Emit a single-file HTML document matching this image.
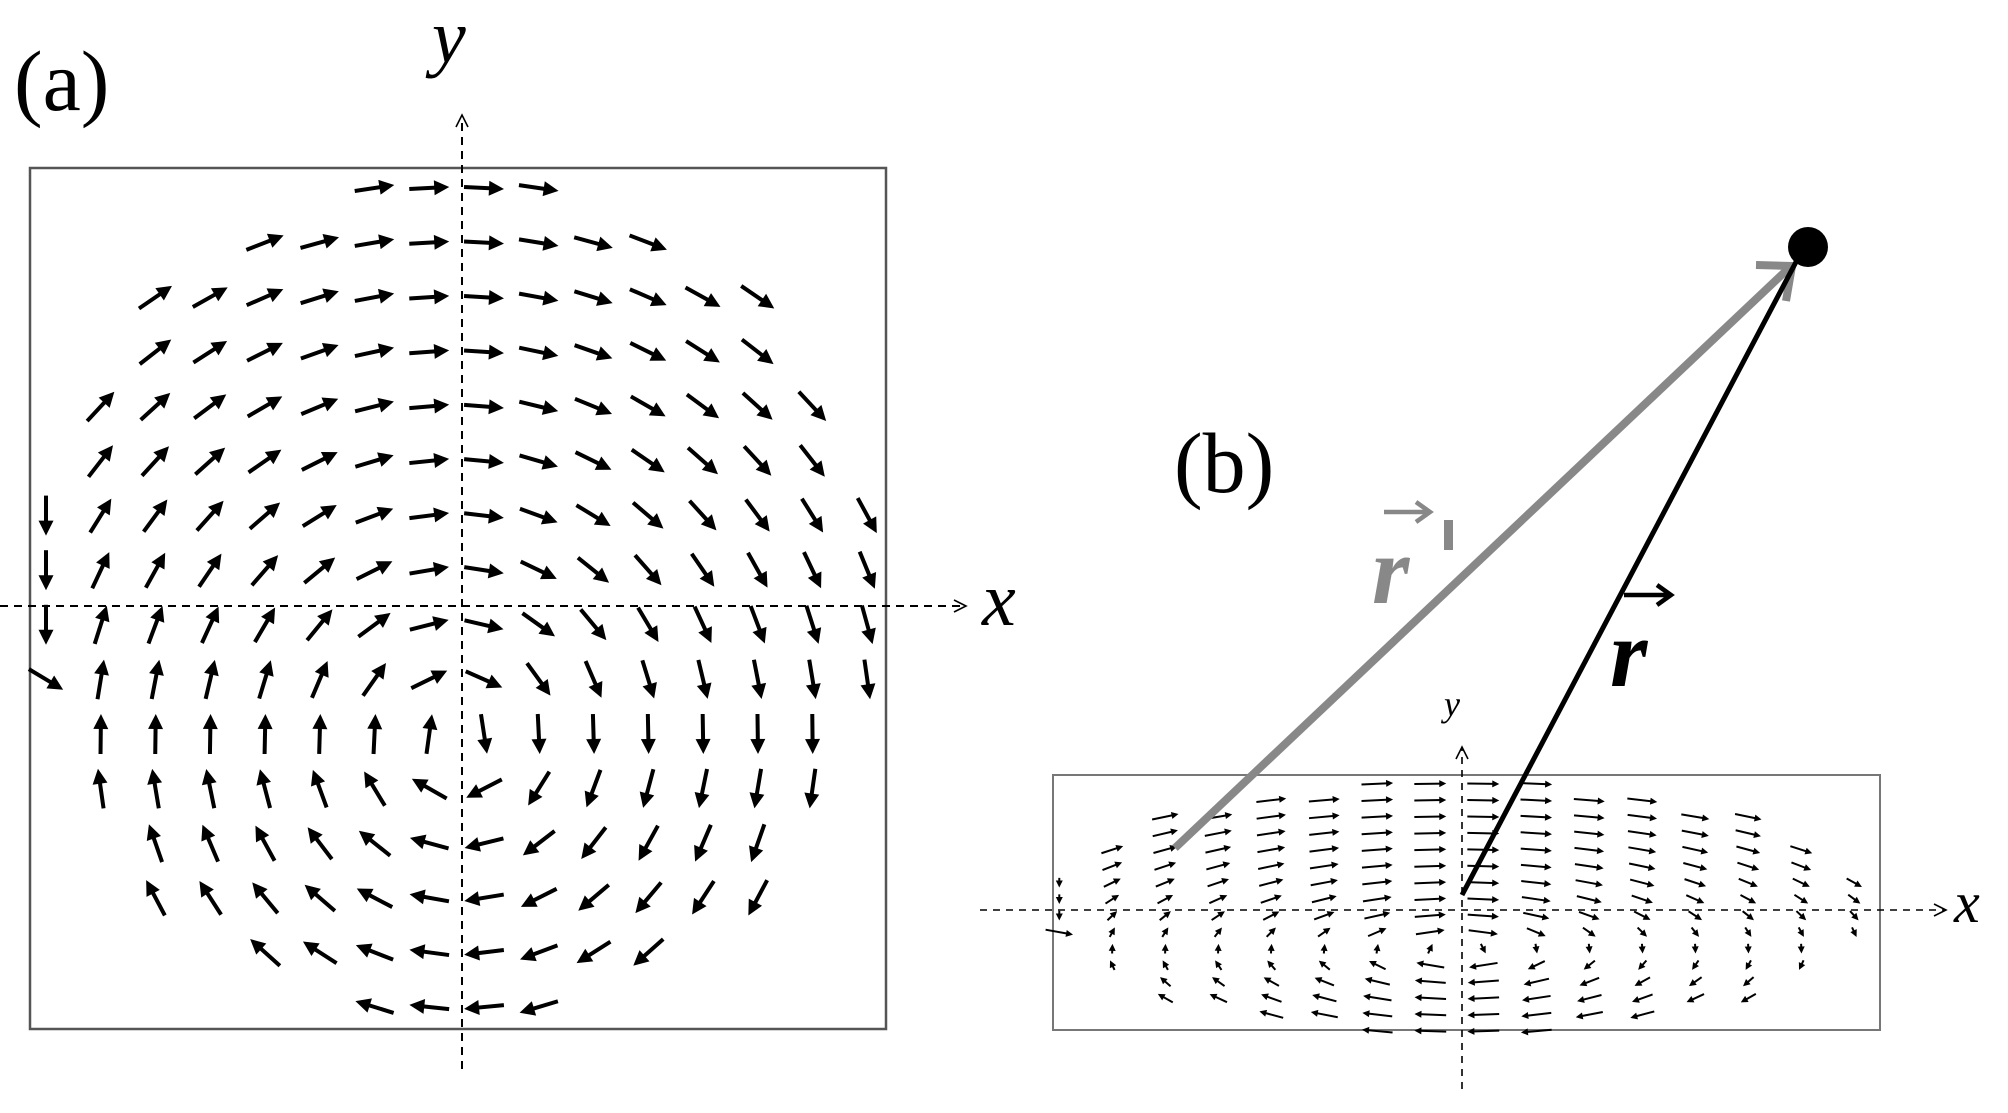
<!DOCTYPE html>
<html><head><meta charset="utf-8"><style>
html,body{margin:0;padding:0;background:#fff;}
svg{display:block;}
</style></head><body>
<svg id="s" width="2008" height="1113" viewBox="0 0 2008 1113" xmlns="http://www.w3.org/2000/svg">
<defs>
<marker id="open" markerWidth="16" markerHeight="16" refX="14" refY="8" orient="auto" markerUnits="userSpaceOnUse">
<path d="M2,2 L14,8 L2,14" fill="none" stroke="#000" stroke-width="1.6"/>
</marker>
</defs>
<rect width="2008" height="1113" fill="#fff"/>
<!-- panel a -->
<rect x="30" y="168" width="856" height="861" fill="none" stroke="#555" stroke-width="2.5"/>
<g id="fa"></g>
<line x1="462" y1="1069" x2="462" y2="115" stroke="#000" stroke-width="2" stroke-dasharray="8,6" marker-end="url(#open)"/>
<line x1="0" y1="606" x2="966" y2="606" stroke="#000" stroke-width="2" stroke-dasharray="8,6" marker-end="url(#open)"/>
<text x="14" y="110" font-family="Liberation Serif, serif" font-size="86">(a)</text>
<text x="432" y="62" font-family="Liberation Serif, serif" font-style="italic" font-size="76">y</text>
<text x="982" y="625" font-family="Liberation Serif, serif" font-style="italic" font-size="76">x</text>
<!-- panel b -->
<rect x="1053" y="775" width="827" height="255" fill="none" stroke="#777" stroke-width="2"/>
<g id="fb"></g>
<line x1="1462" y1="1089" x2="1462" y2="747" stroke="#000" stroke-width="1.6" stroke-dasharray="7,6" marker-end="url(#open)"/>
<line x1="980" y1="910" x2="1946" y2="910" stroke="#000" stroke-width="1.6" stroke-dasharray="7,6" marker-end="url(#open)"/>
<text x="1444" y="716" font-family="Liberation Serif, serif" font-style="italic" font-size="36">y</text>
<text x="1954" y="922" font-family="Liberation Serif, serif" font-style="italic" font-size="58">x</text>
<text x="1174" y="492" font-family="Liberation Serif, serif" font-size="86">(b)</text>
<!-- vectors -->
<line x1="1175" y1="848" x2="1790" y2="267" stroke="#888" stroke-width="8"/>
<path d="M1756,265 L1792,266 L1786,301" fill="none" stroke="#888" stroke-width="8"/>
<line x1="1462" y1="895" x2="1796" y2="262" stroke="#000" stroke-width="5"/>
<circle cx="1808" cy="247" r="20" fill="#000"/>
<text x="1372" y="603" font-family="Liberation Serif, serif" font-style="italic" font-weight="bold" font-size="96" fill="#888">r</text>
<rect x="1444" y="520" width="9" height="30" fill="#888"/>
<path d="M1384,512 L1428,512 M1416,502 L1430,512 L1416,522" fill="none" stroke="#888" stroke-width="4.5"/>
<text x="1610" y="686" font-family="Liberation Serif, serif" font-style="italic" font-weight="bold" font-size="96" fill="#000">r</text>
<path d="M1624,595 L1670,595 M1657,585 L1671,595 L1657,605" fill="none" stroke="#000" stroke-width="4.5"/>
</svg>
<script>
(function(){
var NS="http://www.w3.org/2000/svg";
var ranges=[[6,9],[4,11],[2,13],[2,13],[1,14],[1,14],[0,15],[0,15],[0,15],[0,15],[1,14],[1,14],[2,13],[2,13],[4,11],[6,9]];
var vcx=458,vcy=738;
var fa=document.getElementById('fa'),fb=document.getElementById('fb');
function arrow(g,x,y,ux,uy,L,w,h){
  var x1=x-ux*L/2,y1=y-uy*L/2,x2=x+ux*L/2,y2=y+uy*L/2;
  var l=document.createElementNS(NS,'line');
  l.setAttribute('x1',x1);l.setAttribute('y1',y1);l.setAttribute('x2',x2-ux*h*0.6);l.setAttribute('y2',y2-uy*h*0.6);
  l.setAttribute('stroke','#000');l.setAttribute('stroke-width',w);g.appendChild(l);
  var px=-uy,py=ux;
  var bx=x2-ux*h,by=y2-uy*h;
  var p=document.createElementNS(NS,'polygon');
  p.setAttribute('points',x2+','+y2+' '+(bx+px*h*0.5)+','+(by+py*h*0.5)+' '+(bx-px*h*0.5)+','+(by-py*h*0.5));
  p.setAttribute('fill','#000');g.appendChild(p);
}
for(var j=0;j<16;j++){
  var y=188+54.6*j;
  for(var k=ranges[j][0];k<=ranges[j][1];k++){
    var x=46+54.75*k;
    var dx=x-vcx,dy=y-vcy;
    var ux=-dy,uy=dx;
    if(k==0){ if(j==9){ux=1;uy=0.6;} else {ux=0;uy=1;} }
    var n=Math.sqrt(ux*ux+uy*uy)||1;ux/=n;uy/=n;
    arrow(fa,x,y,ux,uy,40,4,15);
    var X=1462+(x-462)*(53/54.75),Y=910+(y-606)*0.302;
    var bx=ux*32,by=uy*32*0.302;
    var bl=Math.sqrt(bx*bx+by*by);
    if(bl<6){bx=bx/(bl||1)*8;by=by/(bl||1)*8;bl=8;}
    arrow(fb,X,Y,bx/bl,by/bl,bl,2,7);
  }
}
})();
</script>
</body></html>
